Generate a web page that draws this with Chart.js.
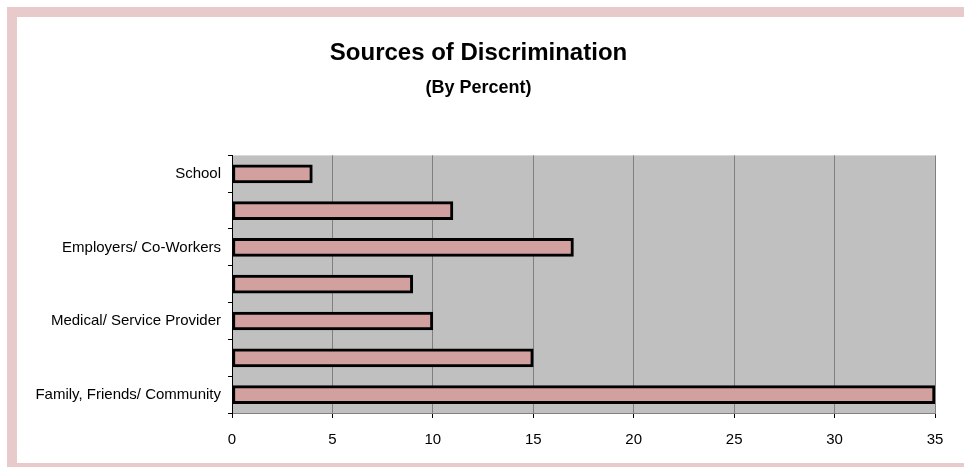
<!DOCTYPE html>
<html>
<head>
<meta charset="utf-8">
<script src="https://cdn.jsdelivr.net/npm/chart.js@4.4.1/dist/chart.umd.min.js"></script>
<style>
  html, body { margin: 0; padding: 0; background: #fff; overflow: hidden; }
  #wrap { position: relative; width: 964px; height: 467px; }
  #frame {
    position: absolute; left: 7px; top: 7px; width: 1000px; height: 446px;
    border-top: 10px solid #e8cacc; border-left: 10px solid #e8cacc; border-bottom: 10px solid #e8cacc;
    pointer-events: none;
  }
</style>
</head>
<body>
<div id="wrap">
  <canvas id="chart" width="964" height="467"></canvas>
  <div id="frame"></div>
</div>
<script>
// categories, top to bottom (unlabelled ones are skipped in the original)
const categories = ["School", "", "Employers/ Co-Workers", "", "Medical/ Service Provider", "", "Family, Friends/ Community"];
const percents = [4, 11, 17, 9, 10, 15, 35];
const xTicks = [0, 5, 10, 15, 20, 25, 30, 35];

const narrow = "'Liberation Sans Narrow', 'Arial Narrow', 'Liberation Sans', Arial, sans-serif";

// gray plot background
const plotBg = {
    id: 'plotBg',
    beforeDraw(chart){
        const a = chart.chartArea;
        const ctx = chart.ctx;
        ctx.save();
        ctx.fillStyle = '#c0c0c0';
        ctx.fillRect(a.left, a.top, a.right - a.left, a.bottom - a.top);
        ctx.restore();
    }
};

new Chart(document.getElementById("chart"), {
    type: 'bar',
    data: {
        labels: categories,
        datasets: [{
            data: percents,
            backgroundColor: '#d3a0a0',
            borderColor: '#000',
            borderWidth: 3,
            borderSkipped: false,
            barThickness: 18
        }]
    },
    options: {
        indexAxis: 'y',
        responsive: false,
        animation: false,
        layout: { padding: { left: 22, right: 29, top: 0, bottom: 0 } },
        plugins: {
            legend: { display: false },
            tooltip: { enabled: false },
            title: {
                display: true,
                text: 'Sources of Discrimination',
                color: '#000',
                font: { family: narrow, size: 24, weight: 'bold' },
                padding: { top: 39, bottom: 9 }
            },
            subtitle: {
                display: true,
                text: '(By Percent)',
                color: '#000',
                font: { family: narrow, size: 18, weight: 'bold' },
                padding: { top: 0, bottom: 57 }
            }
        },
        scales: {
            x: {
                min: 0,
                max: 35,
                afterBuildTicks(scale){ scale.ticks = xTicks.map(v => ({ value: v })); },
                afterFit(scale){ scale.height = 54; },
                grid: { color: '#808080', tickColor: '#000', tickLength: 5 },
                border: { color: '#808080' },
                ticks: { color: '#000', padding: 13, font: { family: narrow, size: 15 } }
            },
            y: {
                afterFit(scale){ scale.width = 210; },
                grid: { drawOnChartArea: false, tickColor: '#000', tickLength: 4, offset: true },
                border: { color: '#000' },
                ticks: { color: '#000', padding: 7, autoSkip: false, font: { family: narrow, size: 15 } }
            }
        }
    },
    plugins: [plotBg]
});
</script>
</body>
</html>
